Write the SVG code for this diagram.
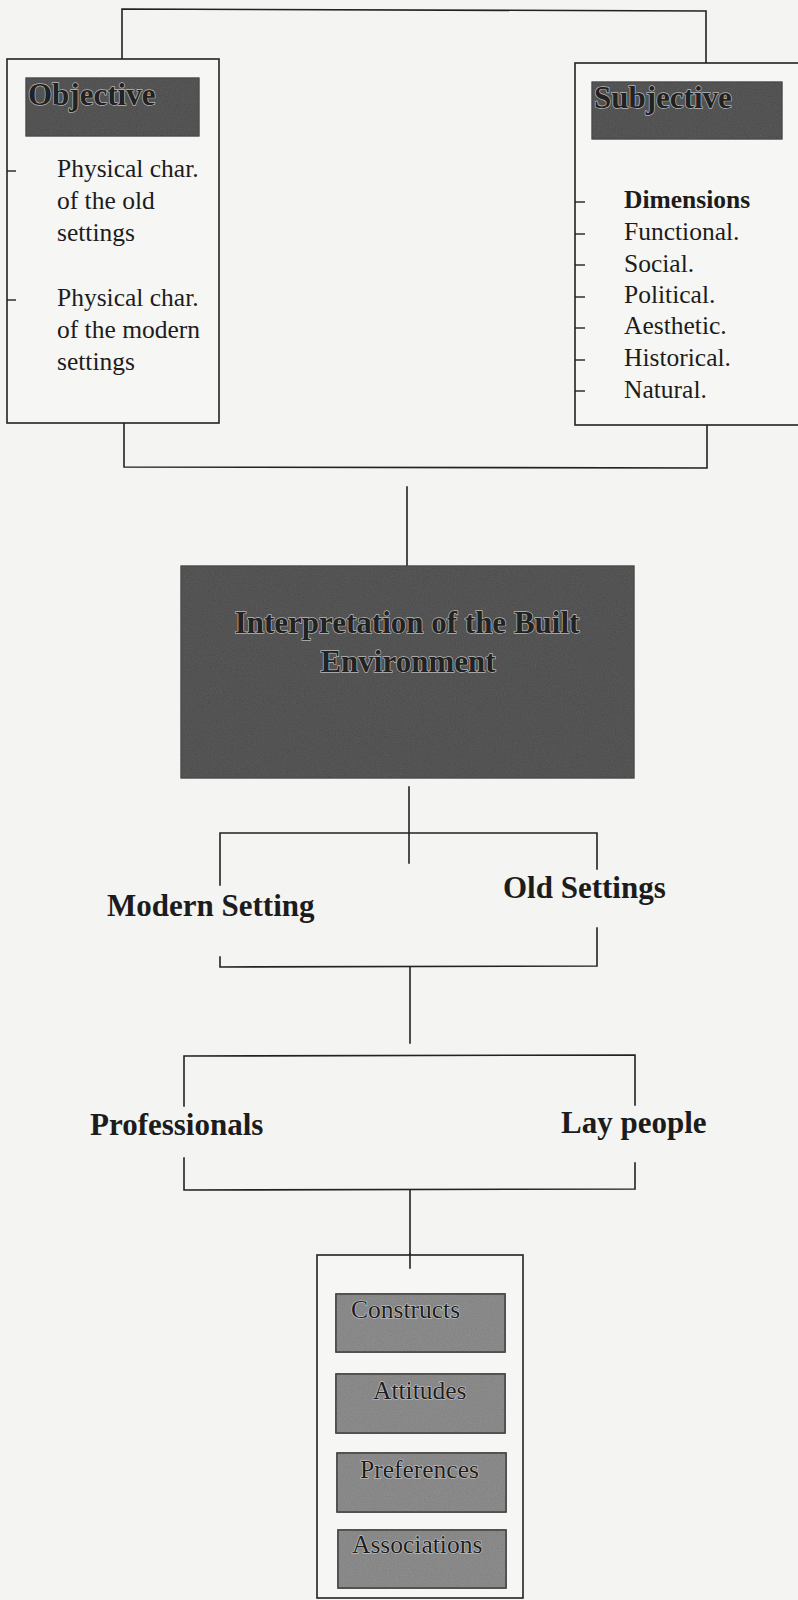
<svg xmlns="http://www.w3.org/2000/svg" width="798" height="1600" viewBox="0 0 798 1600">
  <style>
    .line { fill: none; stroke: #222; stroke-width: 1.6; stroke-linecap: square; }
    .frame { fill: #f6f6f4; stroke: #222; stroke-width: 1.6; }
    .body { font-family: "Liberation Serif", "Times New Roman", serif; font-size: 25.5px; fill: #1c1c1c; }
    .bold { font-weight: bold; }
    .head { font-family: "Liberation Serif", "Times New Roman", serif; font-size: 31px; font-weight: bold; fill: #1c1c1c; }
    .engraved { font-family: "Liberation Serif", "Times New Roman", serif; font-size: 31px; font-weight: bold; fill: #222; stroke: #b8b8b8; stroke-width: 1.4; paint-order: stroke; }
    .tag { font-family: "Liberation Serif", "Times New Roman", serif; font-size: 25.5px; fill: #1e1e1e; stroke: #cfcfcf; stroke-width: 1.2; paint-order: stroke; }
    .dark { fill: #363636; stroke: #2a2a2a; stroke-width: 1.2; }
    .mid { fill: #7c7c7c; stroke: #2a2a2a; stroke-width: 1.6; }
    .tick { stroke: #222; stroke-width: 1.4; }
  </style>
  <defs>
    <filter id="grain" x="0" y="0" width="100%" height="100%">
      <feTurbulence type="fractalNoise" baseFrequency="0.85" numOctaves="2" seed="7" result="noise"/>
      <feColorMatrix in="noise" type="matrix" values="0.33 0.33 0.33 0 0  0.33 0.33 0.33 0 0  0.33 0.33 0.33 0 0  0 0 0 0 1" result="gray"/>
      <feComposite in="gray" in2="SourceGraphic" operator="in"/>
    </filter>
  </defs>

  <!-- page -->
  <rect x="0" y="0" width="798" height="1600" fill="#f4f4f2"/>

  <!-- connectors -->
  <g id="connectors">
    <!-- top bracket joining the two boxes -->
    <polyline class="line" points="122,59 122,9 706,11 706,63"/>
    <!-- lower bracket under the two boxes -->
    <polyline class="line" points="124,423 124,467 707,468 707,425"/>
    <line class="line" x1="407" y1="487" x2="407" y2="565"/>
    <!-- settings bracket -->
    <line class="line" x1="409" y1="787" x2="409" y2="863"/>
    <polyline class="line" points="220,885 220,833 597,833 597,869"/>
    <polyline class="line" points="220,957 220,967 597,966 597,928"/>
    <line class="line" x1="410" y1="967" x2="410" y2="1043"/>
    <!-- people bracket -->
    <polyline class="line" points="184,1106 184,1056 635,1055 635,1105"/>
    <polyline class="line" points="184,1158 184,1190 635,1189 635,1163"/>
    <line class="line" x1="410" y1="1190" x2="410" y2="1268"/>
  </g>

  <!-- objective box -->
  <g id="objective">
    <rect class="frame" x="7" y="59" width="212" height="364"/>
    <rect class="dark" x="26" y="78" width="173" height="58"/>
    <rect x="26" y="78" width="173" height="58" filter="url(#grain)" opacity="0.22"/>
    <text class="engraved" x="28" y="105">Objective</text>
    <line class="tick" x1="7" y1="171" x2="16" y2="171"/>
    <text class="body" x="57" y="177" font-size="26">Physical char.</text>
    <text class="body" x="57" y="209" font-size="26">of the old</text>
    <text class="body" x="57" y="241" font-size="26">settings</text>
    <line class="tick" x1="7" y1="300" x2="16" y2="300"/>
    <text class="body" x="57" y="306" font-size="26">Physical char.</text>
    <text class="body" x="57" y="338" font-size="26">of the modern</text>
    <text class="body" x="57" y="370" font-size="26">settings</text>
  </g>

  <!-- subjective box -->
  <g id="subjective">
    <rect class="frame" x="575" y="63" width="240" height="362"/>
    <rect class="dark" x="592" y="82" width="190" height="57"/>
    <rect x="592" y="82" width="190" height="57" filter="url(#grain)" opacity="0.22"/>
    <text class="engraved" x="594" y="108">Subjective</text>
    <line class="tick" x1="575" y1="202" x2="585" y2="202"/>
    <line class="tick" x1="575" y1="234" x2="585" y2="234"/>
    <line class="tick" x1="575" y1="265" x2="585" y2="265"/>
    <line class="tick" x1="575" y1="297" x2="585" y2="297"/>
    <line class="tick" x1="575" y1="328" x2="585" y2="328"/>
    <line class="tick" x1="575" y1="360" x2="585" y2="360"/>
    <line class="tick" x1="575" y1="391" x2="585" y2="391"/>
    <text class="body bold" x="624" y="208">Dimensions</text>
    <text class="body" x="624" y="240">Functional.</text>
    <text class="body" x="624" y="272">Social.</text>
    <text class="body" x="624" y="303">Political.</text>
    <text class="body" x="624" y="334">Aesthetic.</text>
    <text class="body" x="624" y="366">Historical.</text>
    <text class="body" x="624" y="398">Natural.</text>
  </g>

  <!-- central node -->
  <g id="interpretation">
    <rect class="dark" x="181" y="566" width="453" height="212"/>
    <rect x="181" y="566" width="453" height="212" filter="url(#grain)" opacity="0.22"/>
    <text class="engraved" x="407" y="633" text-anchor="middle">Interpretation of the Built</text>
    <text class="engraved" x="408" y="672" text-anchor="middle">Environment</text>
  </g>

  <!-- settings -->
  <g id="modern-setting">
    <text class="head" x="107" y="916">Modern Setting</text>
  </g>
  <g id="old-settings">
    <text class="head" x="503" y="898">Old Settings</text>
  </g>

  <!-- people -->
  <g id="professionals">
    <text class="head" x="90" y="1135">Professionals</text>
  </g>
  <g id="lay-people">
    <text class="head" x="561" y="1133">Lay people</text>
  </g>

  <!-- outcome stack -->
  <g id="outcomes">
    <rect class="frame" x="317" y="1255" width="206" height="343"/>
    <line class="line" x1="410" y1="1254" x2="410" y2="1268"/>
    <g id="constructs">
      <rect class="mid" x="336" y="1294" width="169" height="58"/>
      <rect x="336" y="1294" width="169" height="58" filter="url(#grain)" opacity="0.2"/>
      <text class="tag" x="351" y="1318">Constructs</text>
    </g>
    <g id="attitudes">
      <rect class="mid" x="336" y="1374" width="169" height="59"/>
      <rect x="336" y="1374" width="169" height="59" filter="url(#grain)" opacity="0.2"/>
      <text class="tag" x="373" y="1399">Attitudes</text>
    </g>
    <g id="preferences">
      <rect class="mid" x="337" y="1453" width="169" height="59"/>
      <rect x="337" y="1453" width="169" height="59" filter="url(#grain)" opacity="0.2"/>
      <text class="tag" x="360" y="1478">Preferences</text>
    </g>
    <g id="associations">
      <rect class="mid" x="338" y="1530" width="168" height="58"/>
      <rect x="338" y="1530" width="168" height="58" filter="url(#grain)" opacity="0.2"/>
      <text class="tag" x="352" y="1553">Associations</text>
    </g>
  </g>
</svg>
